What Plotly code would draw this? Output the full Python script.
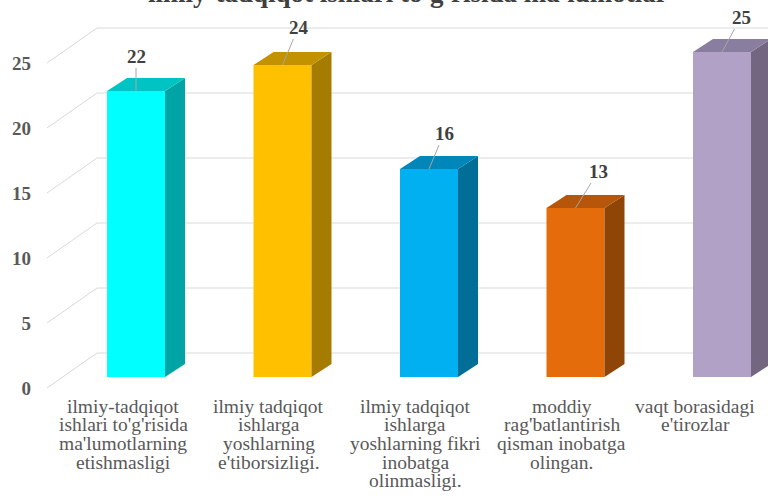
"""
3D-style bar chart: ilmiy-tadqiqot ishlari bo'yicha muammolar
"""

import plotly.graph_objects as go

# --- data ---
categories = [
    "ilmiy-tadqiqot<br>ishlari to'g'risida<br>ma'lumotlarning<br>etishmasligi",
    "ilmiy tadqiqot<br>ishlarga<br>yoshlarning<br>e'tiborsizligi.",
    "ilmiy tadqiqot<br>ishlarga<br>yoshlarning fikri<br>inobatga<br>olinmasligi.",
    "moddiy<br>rag'batlantirish<br>qisman inobatga<br>olingan.",
    "vaqt borasidagi<br>e'tirozlar",
]
values = [22, 24, 16, 13, 25]
y_ticks = [0, 5, 10, 15, 20, 25]
title_text = "ilmiy-tadqiqot ishlari to'g'risida ma'lumotlar"

# --- styles ---
front_colors = ["#00FFFF", "#FFC000", "#00B0F0", "#E46C0A", "#B2A1C7"]
top_colors = ["#00C4C4", "#C29200", "#0086B8", "#B5560A", "#8A7EA0"]
side_colors = ["#00A4A4", "#A67C00", "#006E96", "#8F4506", "#726680"]
label_offsets = [(0, -35), (16, -38), (15, -36), (23, -37), (19, -35)]
cat_xshift = [3, 2, 2, 2, -11]

W, H = 768, 500
ML, MR, MT, MB = 40, 0, 20, 105
PLOT_W = W - ML - MR
PLOT_H = H - MT - MB
PX_CAT = 146.5   # pixels per category
PX_VAL = 13.0    # pixels per value unit
BAR_X0, BAR_Y0 = 136, 377      # pixel of category 0 / value 0 (bar front)
FRONT_X0, FRONT_Y0 = 120, 388  # pixel of category 0 / value 0 (front plane)
LINE_STEP = 18.7                # category label line spacing
FIRST_LINE = 406                # centre of first category label line

bar_w = 58 / PX_CAT
depth_dx = 20 / PX_CAT
depth_dy = 13 / PX_VAL

wall_x_front = (47 - FRONT_X0) / PX_CAT
wall_dx = 50 / PX_CAT
wall_dy = 35 / PX_VAL

serif = "Liberation Serif"


def x_range(x0_px):
    return [(ML - x0_px) / PX_CAT, (W - MR - x0_px) / PX_CAT]


def y_range(y0_px):
    lo = -(MT + PLOT_H - y0_px) / PX_VAL
    return [lo, lo + PLOT_H / PX_VAL]


fig = go.Figure()

# back wall + left wall gridlines (front plane axes)
gx, gy = [], []
right_edge = x_range(FRONT_X0)[1] + 0.2
for v in y_ticks:
    gx += [wall_x_front, wall_x_front + wall_dx, right_edge, None]
    gy += [v, v + wall_dy, v + wall_dy, None]
fig.add_trace(
    go.Scatter(
        x=gx, y=gy, mode="lines",
        line=dict(color="#D9D9D9", width=1),
        hoverinfo="skip", showlegend=False,
        xaxis="x", yaxis="y",
    )
)

# front faces
idx = list(range(len(values)))
fig.add_trace(
    go.Bar(
        x=idx, y=values, width=bar_w,
        marker=dict(color=front_colors, line=dict(width=0)),
        hovertemplate="%{y}<extra></extra>",
        showlegend=False,
        xaxis="x2", yaxis="y2",
    )
)

# side and top faces
for i, v in enumerate(values):
    xr = i + bar_w / 2
    xl = i - bar_w / 2
    fig.add_trace(
        go.Scatter(
            x=[xr, xr + depth_dx, xr + depth_dx, xr, xr],
            y=[0, depth_dy, v + depth_dy, v, 0],
            fill="toself", fillcolor=side_colors[i], mode="none",
            hoverinfo="skip", showlegend=False,
            xaxis="x2", yaxis="y2",
        )
    )
    fig.add_trace(
        go.Scatter(
            x=[xl, xr, xr + depth_dx, xl + depth_dx, xl],
            y=[v, v, v + depth_dy, v + depth_dy, v],
            fill="toself", fillcolor=top_colors[i], mode="none",
            hoverinfo="skip", showlegend=False,
            xaxis="x2", yaxis="y2",
        )
    )
    fig.add_annotation(
        x=i, y=v, xref="x2", yref="y2",
        text=f"<b>{v}</b>",
        showarrow=True, arrowhead=0, arrowwidth=1, arrowcolor="#A6A6A6",
        ax=label_offsets[i][0], ay=label_offsets[i][1],
        font=dict(family=serif, size=19, color="#404040"),
    )

# category labels, one line each (tight line spacing like the original)
plot_bottom = MT + PLOT_H
for i, cat in enumerate(categories):
    for k, line in enumerate(cat.split("<br>")):
        fig.add_annotation(
            x=i, xref="x", y=0, yref="paper",
            text=line, showarrow=False,
            xanchor="center", yanchor="middle",
            xshift=cat_xshift[i],
            yshift=-(FIRST_LINE - plot_bottom + k * LINE_STEP),
            font=dict(family=serif, size=19.5, color="#595959"),
        )

# title (only its lower part shows, as in the original)
fig.add_annotation(
    x=(408 - ML) / PLOT_W, xref="paper", y=1, yref="paper",
    text=f"<b>{title_text}</b>", showarrow=False,
    xanchor="center", yanchor="bottom", yshift=10,
    font=dict(family=serif, size=27, color="#404040"),
)

fig.update_layout(
    width=W, height=H,
    margin=dict(l=ML, r=MR, t=MT, b=MB),
    paper_bgcolor="white",
    plot_bgcolor="rgba(0,0,0,0)",
    xaxis=dict(
        range=x_range(FRONT_X0),
        showticklabels=False,
        showgrid=False, zeroline=False, showline=False, ticks="",
        automargin=False,
    ),
    yaxis=dict(
        range=y_range(FRONT_Y0),
        tickvals=y_ticks,
        tickfont=dict(family=serif, size=19, color="#595959", weight="bold"),
        showgrid=False, zeroline=False, showline=False, ticks="",
        ticklabelstandoff=8, automargin=False,
    ),
    xaxis2=dict(
        range=x_range(BAR_X0), overlaying="x",
        visible=False, automargin=False,
    ),
    yaxis2=dict(
        range=y_range(BAR_Y0), overlaying="y",
        visible=False, automargin=False,
    ),
)

# drop the browser's default body margin so the figure sits at the corner
fig.write_html(
    "out.html",
    config={"displayModeBar": False},
    post_script="document.body.style.margin = '0';",
)
